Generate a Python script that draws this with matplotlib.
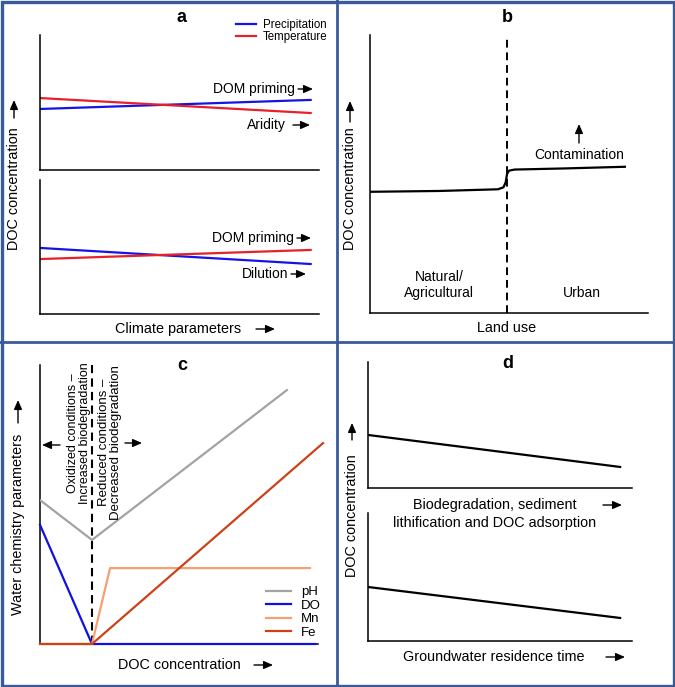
import matplotlib
matplotlib.use('Agg')
import matplotlib.pyplot as plt
from matplotlib.patches import Rectangle, FancyArrowPatch
from matplotlib.lines import Line2D

plt.rcParams['font.family'] = ['Liberation Sans', 'DejaVu Sans']

W, H = 675, 687

# panel a: DOC vs climate parameters (upper / lower sketches)
a_x = [0, 9.7]
a_top_precip = [4.52, 5.19]
a_top_temp = [5.33, 4.22]
a_bot_precip = [4.93, 3.73]
a_bot_temp = [4.10, 4.78]

# panel b: DOC vs land use
b_x = [0, 2.5, 4.6, 4.8, 4.88, 4.93, 5.0, 5.2, 7.0, 9.17]
b_y = [4.36, 4.39, 4.45, 4.52, 4.7, 5.0, 5.12, 5.16, 5.2, 5.26]
b_boundary = 4.93

# panel c: water chemistry vs DOC
c_boundary = 1.87
ph_x, ph_y = [0, 1.87, 8.88], [5.16, 3.73, 9.10]
do_x, do_y = [0, 1.87, 9.9], [4.27, 0, 0]
mn_x, mn_y = [0, 1.87, 2.52, 9.71], [0, 0, 2.72, 2.72]
fe_x, fe_y = [0, 1.87, 10.18], [0, 0, 7.2]

# panel d: DOC decline
d_x = [0, 9.55]
d_top = [4.21, 1.67]
d_bot = [4.22, 1.80]

BLUE = '#1414e6'
RED = '#e8202a'
FRAME = '#3b5a9a'
FS = 10.4

fig = plt.figure(figsize=(W / 100, H / 100), dpi=100)


def px_axes(x0, y0, x1, y1):
    ax = fig.add_axes([x0 / W, 1 - y1 / H, (x1 - x0) / W, (y1 - y0) / H])
    ax.set_xlim(0, 10)
    ax.set_ylim(0, 10)
    for s in ['top', 'right']:
        ax.spines[s].set_visible(False)
    for s in ['left', 'bottom']:
        ax.spines[s].set_linewidth(1.1)
    ax.set_xticks([])
    ax.set_yticks([])
    ax.patch.set_alpha(0)
    return ax


def ftext(x, y, s, **kw):
    kw.setdefault('fontsize', FS)
    kw.setdefault('ha', 'center')
    kw.setdefault('va', 'center')
    fig.text(x / W, 1 - y / H, s, **kw)


def farrow(x0, y0, x1, y1):
    fig.add_artist(FancyArrowPatch(
        (x0 / W, 1 - y0 / H), (x1 / W, 1 - y1 / H), transform=fig.transFigure,
        arrowstyle='-|>,head_length=0.55,head_width=0.24', color='black', lw=1.0,
        shrinkA=0, shrinkB=0, mutation_scale=10))


# ---------- panel a ----------
ax = px_axes(40, 35, 319, 170)
ax.plot(a_x, a_top_precip, color=BLUE, lw=1.6, label='Precipitation')
ax.plot(a_x, a_top_temp, color=RED, lw=1.6, label='Temperature')
ax.legend(loc='upper left', bbox_to_anchor=(236 / W, 1 - 19 / H), bbox_transform=fig.transFigure,
          frameon=False, fontsize=8.3, handlelength=1.7, handletextpad=0.6, labelspacing=0.0,
          borderpad=0, borderaxespad=0)
ax = px_axes(40, 180, 319, 314)
ax.plot(a_x, a_bot_precip, color=BLUE, lw=1.6)
ax.plot(a_x, a_bot_temp, color=RED, lw=1.6)

ftext(182, 18, 'a', fontsize=13, fontweight='bold')
ftext(213, 89, 'DOM priming', ha='left', fontsize=10)
farrow(298, 89, 313, 89)
ftext(247, 125, 'Aridity', ha='left', fontsize=10)
farrow(293, 125, 310, 125)
ftext(212, 238, 'DOM priming', ha='left', fontsize=10)
farrow(297, 238, 311, 238)
ftext(242, 274, 'Dilution', ha='left', fontsize=10)
farrow(291, 274, 306, 274)
ftext(115, 329, 'Climate parameters', ha='left')
farrow(256, 329, 275, 329)
ftext(14, 250, 'DOC concentration', rotation=90, va='bottom')
farrow(14, 118, 14, 100)

# ---------- panel b ----------
ax = px_axes(370, 35, 648, 313)
ax.plot(b_x, b_y, color='black', lw=1.6)
ax.axvline(b_boundary, ymax=0.99, color='black', lw=1.4, ls=(0, (4, 2.5)))
ftext(507, 18, 'b', fontsize=13, fontweight='bold')
ftext(579, 155, 'Contamination', fontsize=10)
farrow(579, 143, 579, 124)
ftext(439, 285, 'Natural/\nAgricultural', fontsize=10)
ftext(582, 293, 'Urban', fontsize=10)
ftext(507, 328, 'Land use')
ftext(350, 250, 'DOC concentration', rotation=90, va='bottom')
farrow(350, 122, 350, 101)

# ---------- panel c ----------
ax = px_axes(40, 365, 318, 644)
ax.plot(ph_x, ph_y, color='#a3a3a3', lw=1.6, label='pH', zorder=3)
ax.plot(do_x, do_y, color='#1010e0', lw=1.6, label='DO', zorder=3, clip_on=False)
ax.plot(mn_x, mn_y, color='#f5a070', lw=1.6, label='Mn', zorder=3, clip_on=False)
ax.plot(fe_x, fe_y, color='#cc4218', lw=1.6, label='Fe', zorder=4, clip_on=False)
ax.axvline(c_boundary, color='black', lw=1.5, ls=(0, (4, 2.5)))
ax.legend(loc='upper left', bbox_to_anchor=(266 / W, 1 - 586 / H), bbox_transform=fig.transFigure,
          frameon=False, fontsize=9.5, handlelength=1.9, handletextpad=0.75, labelspacing=0.1,
          borderpad=0, borderaxespad=0)
ftext(182, 365, 'c', fontsize=13, fontweight='bold')
ftext(79, 504, 'Oxidized conditions \u2013\nIncreased biodegradation', rotation=90,
      va='bottom', fontsize=9.0, linespacing=1.0)
ftext(110, 520, 'Reduced conditions \u2013\nDecreased biodegradation', rotation=90,
      va='bottom', fontsize=9.5, linespacing=1.05)
farrow(60, 445, 42, 445)
farrow(125, 443, 142, 443)
ftext(118, 665, 'DOC concentration', ha='left')
farrow(254, 665, 273, 665)
ftext(18, 615, 'Water chemistry parameters', rotation=90, va='bottom')
farrow(18, 423, 18, 400)

# ---------- panel d ----------
ax = px_axes(368, 362, 632, 488)
ax.plot(d_x, d_top, color='black', lw=1.6)
ax = px_axes(368, 513, 632, 641)
ax.plot(d_x, d_bot, color='black', lw=1.6)
ftext(508, 363, 'd', fontsize=13, fontweight='bold')
ftext(495, 505, 'Biodegradation, sediment')
ftext(495, 523, 'lithification and DOC adsorption')
farrow(603, 505, 622, 505)
ftext(403, 657, 'Groundwater residence time', ha='left')
farrow(606, 657, 625, 657)
ftext(352, 577, 'DOC concentration', rotation=90, va='bottom')
farrow(352, 440, 352, 423)

# ---------- frames ----------
fig.add_artist(Rectangle((1.5 / W, 1.5 / H), (W - 3) / W, (H - 3) / H, transform=fig.transFigure,
                         fill=False, edgecolor=FRAME, lw=2.4))
fig.add_artist(Line2D([337 / W, 337 / W], [0, 1], transform=fig.transFigure, color=FRAME, lw=2))
fig.add_artist(Line2D([0, 1], [1 - 342 / H, 1 - 342 / H], transform=fig.transFigure, color=FRAME, lw=2))

fig.savefig('out.png', dpi=100)
